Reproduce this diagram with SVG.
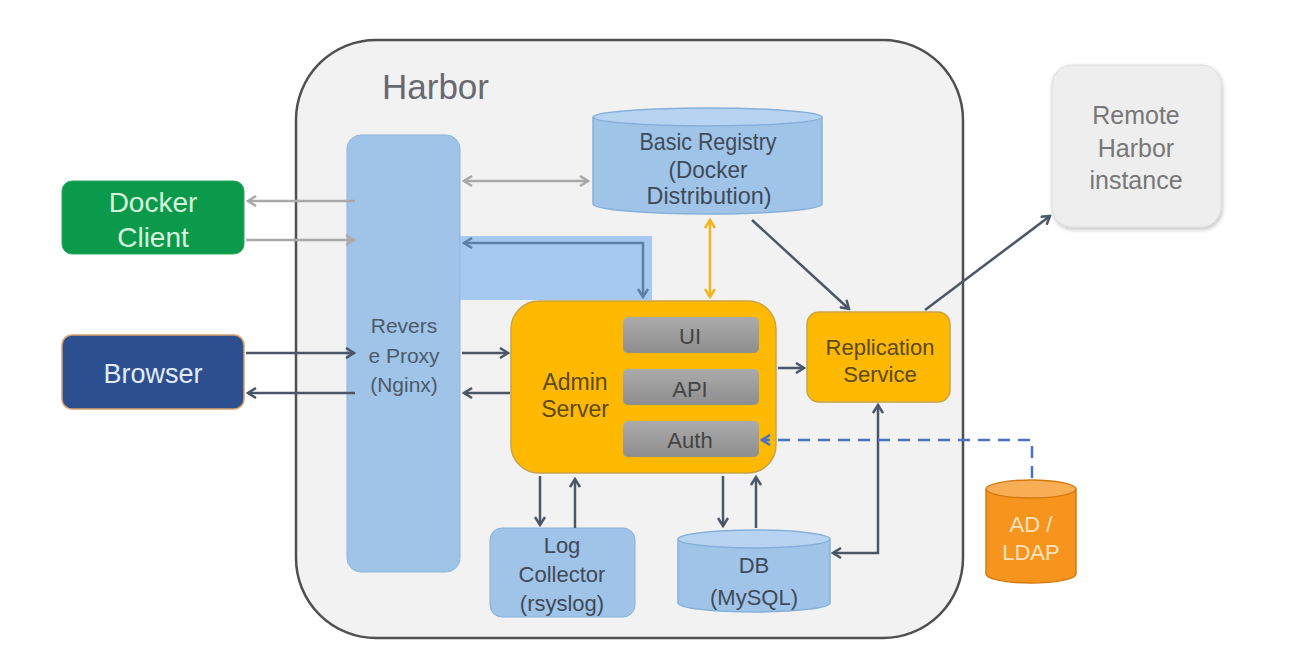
<svg xmlns="http://www.w3.org/2000/svg" width="1314" height="652" viewBox="0 0 1314 652">
<defs>
<style>
.t{font-family:"Liberation Sans","Noto Sans",Arial,sans-serif;text-anchor:middle}
.c{fill:none;stroke-width:2.5}
.g{stroke:#a9a9a9}
.d{stroke:#4b5668}
.y{stroke:#f5b21a}
.s{stroke:#5d7fa6}
.b{stroke:#4a72c2;stroke-dasharray:12 8}
</style>
<marker id="ag" viewBox="0 0 12 12" refX="10" refY="6" markerWidth="12" markerHeight="12" markerUnits="userSpaceOnUse" orient="auto-start-reverse"><path d="M2,1 L10,6 L2,11" fill="none" stroke="#a9a9a9" stroke-width="2.5"/></marker>
<marker id="ad" viewBox="0 0 12 12" refX="10" refY="6" markerWidth="12" markerHeight="12" markerUnits="userSpaceOnUse" orient="auto-start-reverse"><path d="M2,1 L10,6 L2,11" fill="none" stroke="#4b5668" stroke-width="2.5"/></marker>
<marker id="ay" viewBox="0 0 12 12" refX="10" refY="6" markerWidth="12" markerHeight="12" markerUnits="userSpaceOnUse" orient="auto-start-reverse"><path d="M2,1 L10,6 L2,11" fill="none" stroke="#f5b21a" stroke-width="2.5"/></marker>
<marker id="as" viewBox="0 0 12 12" refX="10" refY="6" markerWidth="12" markerHeight="12" markerUnits="userSpaceOnUse" orient="auto-start-reverse"><path d="M2,1 L10,6 L2,11" fill="none" stroke="#5d7fa6" stroke-width="2.5"/></marker>
<marker id="ab" viewBox="0 0 12 12" refX="10" refY="6" markerWidth="12" markerHeight="12" markerUnits="userSpaceOnUse" orient="auto-start-reverse"><path d="M2,1 L10,6 L2,11" fill="none" stroke="#4a72c2" stroke-width="2.5"/></marker>
<linearGradient id="gr" x1="0" y1="0" x2="0" y2="1"><stop offset="0" stop-color="#ababab"/><stop offset="1" stop-color="#8e8e8e"/></linearGradient>
<filter id="sh" x="-10%" y="-10%" width="130%" height="130%"><feDropShadow dx="1" dy="2" stdDeviation="2" flood-color="#000" flood-opacity="0.25"/></filter>
</defs>
<rect width="1314" height="652" fill="#ffffff"/>

<g id="harbor">
<rect x="296" y="40" width="667" height="598" rx="80" fill="#f2f2f2" stroke="#505050" stroke-width="2.5"/>
<text class="t" x="382" y="99" font-size="35" fill="#666a70" style="text-anchor:start">Harbor</text>
</g>

<g id="band">
<rect x="460" y="236" width="192" height="64" fill="#a6c9f0"/>
</g>

<g id="remote">
<rect x="1052" y="65" width="169" height="162" rx="20" fill="#eeeeee" stroke="#dddddd" filter="url(#sh)"/>
<text class="t" x="1136" y="124" font-size="25" fill="#777">Remote</text>
<text class="t" x="1136" y="157" font-size="25" fill="#777">Harbor</text>
<text class="t" x="1136" y="189" font-size="25" fill="#777">instance</text>
</g>

<g id="docker-client">
<rect x="62" y="181" width="182" height="73" rx="10" fill="#0b9a4c" stroke="#2aa860"/>
<text class="t" x="153" y="212" font-size="28" fill="#d6f2dc">Docker</text>
<text class="t" x="153" y="247" font-size="28" fill="#d6f2dc">Client</text>
</g>

<g id="browser">
<rect x="62" y="335" width="182" height="74" rx="10" fill="#2b4f8f" stroke="#d9a06c" stroke-width="1.5"/>
<text class="t" x="153" y="383" font-size="27" fill="#e4ebf5">Browser</text>
</g>

<g id="proxy">
<rect x="347" y="135" width="113" height="437" rx="14" fill="#9fc4e8" stroke="#8fb5dc"/>
<text class="t" x="404" y="333" font-size="21" fill="#4c5a6a">Revers</text>
<text class="t" x="404" y="363" font-size="21" fill="#4c5a6a">e Proxy</text>
<text class="t" x="404" y="392" font-size="21" fill="#4c5a6a">(Nginx)</text>
</g>

<g id="registry">
<path d="M593,117 L593,204 A114.5,10 0 0 0 822,204 L822,117" fill="#9fc4e8" stroke="#86b0da" stroke-width="1.5"/>
<ellipse cx="707.5" cy="117" rx="114.5" ry="9" fill="#b6d4f2" stroke="#86b0da" stroke-width="1.5"/>
<text class="t" x="708" y="150" font-size="24" fill="#3f4a5a" textLength="137" lengthAdjust="spacingAndGlyphs">Basic Registry</text>
<text class="t" x="708" y="178" font-size="24" fill="#3f4a5a" textLength="79" lengthAdjust="spacingAndGlyphs">(Docker</text>
<text class="t" x="709" y="204" font-size="24" fill="#3f4a5a" textLength="125" lengthAdjust="spacingAndGlyphs">Distribution)</text>
</g>

<g id="admin">
<rect x="511" y="301" width="265" height="172" rx="28" fill="#ffb900" stroke="#c9a246" stroke-width="1.5"/>
<text class="t" x="575" y="390" font-size="23" fill="#5a4a1e">Admin</text>
<text class="t" x="575" y="417" font-size="23" fill="#5a4a1e">Server</text>
</g>
<g id="ui">
<rect x="623" y="317" width="136" height="36" rx="5" fill="url(#gr)"/>
<text class="t" x="690" y="344" font-size="22" fill="#444">UI</text>
</g>
<g id="api">
<rect x="623" y="369" width="136" height="36" rx="5" fill="url(#gr)"/>
<text class="t" x="690" y="397" font-size="22" fill="#444">API</text>
</g>
<g id="auth">
<rect x="623" y="421" width="136" height="36" rx="5" fill="url(#gr)"/>
<text class="t" x="690" y="448" font-size="22" fill="#444">Auth</text>
</g>

<g id="replication">
<rect x="807" y="312" width="143" height="90" rx="12" fill="#ffb900" stroke="#c9a246" stroke-width="1.5"/>
<text class="t" x="880" y="355" font-size="22" fill="#5a4a1e">Replication</text>
<text class="t" x="880" y="382" font-size="22" fill="#5a4a1e">Service</text>
</g>

<g id="log">
<rect x="490" y="528" width="145" height="89" rx="12" fill="#9fc4e8" stroke="#86b0da"/>
<text class="t" x="562" y="553" font-size="22" fill="#3f4a5a">Log</text>
<text class="t" x="562" y="582" font-size="22" fill="#3f4a5a">Collector</text>
<text class="t" x="562" y="611" font-size="22" fill="#3f4a5a">(rsyslog)</text>
</g>

<g id="db">
<path d="M678,539 L678,603 A76,9 0 0 0 830,603 L830,539" fill="#9fc4e8" stroke="#86b0da" stroke-width="1.5"/>
<ellipse cx="754" cy="539" rx="76" ry="9" fill="#b6d4f2" stroke="#86b0da" stroke-width="1.5"/>
<text class="t" x="754" y="573" font-size="22" fill="#3f4a5a">DB</text>
<text class="t" x="754" y="605" font-size="22" fill="#3f4a5a">(MySQL)</text>
</g>

<g id="ldap">
<path d="M986,489 L986,574 A45,9 0 0 0 1076,574 L1076,489" fill="#f7941d" stroke="#d27a10" stroke-width="1.5"/>
<ellipse cx="1031" cy="489" rx="45" ry="9" fill="#f9ad55" stroke="#d27a10" stroke-width="1.5"/>
<text class="t" x="1031" y="532" font-size="22" fill="#fde2bf">AD /</text>
<text class="t" x="1031" y="560" font-size="22" fill="#fde2bf">LDAP</text>
</g>

<g id="connectors">
<line class="c g" x1="355" y1="201" x2="248" y2="201" marker-end="url(#ag)"/>
<line class="c g" x1="246" y1="240" x2="354" y2="240" marker-end="url(#ag)"/>
<line class="c d" x1="246" y1="353" x2="354" y2="353" marker-end="url(#ad)"/>
<line class="c d" x1="355" y1="393" x2="248" y2="393" marker-end="url(#ad)"/>
<line class="c g" x1="464" y1="181" x2="588" y2="181" marker-start="url(#ag)" marker-end="url(#ag)"/>
<polyline class="c s" points="643,297 643,243 464,243" marker-start="url(#as)" marker-end="url(#as)"/>
<line class="c d" x1="462" y1="353" x2="508" y2="353" marker-end="url(#ad)"/>
<line class="c d" x1="510" y1="393" x2="464" y2="393" marker-end="url(#ad)"/>
<line class="c y" x1="710" y1="220" x2="710" y2="297" marker-start="url(#ay)" marker-end="url(#ay)"/>
<line class="c d" x1="752" y1="220" x2="849" y2="309" marker-end="url(#ad)"/>
<line class="c d" x1="778" y1="368" x2="804" y2="368" marker-end="url(#ad)"/>
<line class="c d" x1="925" y1="310" x2="1050" y2="216" marker-end="url(#ad)"/>
<line class="c d" x1="540" y1="476" x2="540" y2="525" marker-end="url(#ad)"/>
<line class="c d" x1="575" y1="528" x2="575" y2="479" marker-end="url(#ad)"/>
<line class="c d" x1="723" y1="476" x2="723" y2="526" marker-end="url(#ad)"/>
<line class="c d" x1="756" y1="528" x2="756" y2="477" marker-end="url(#ad)"/>
<polyline class="c d" points="833,553 878,553 878,405" marker-start="url(#ad)" marker-end="url(#ad)"/>
<polyline class="c b" points="1032,478 1032,440 762,440" marker-end="url(#ab)"/>
</g>
</svg>
